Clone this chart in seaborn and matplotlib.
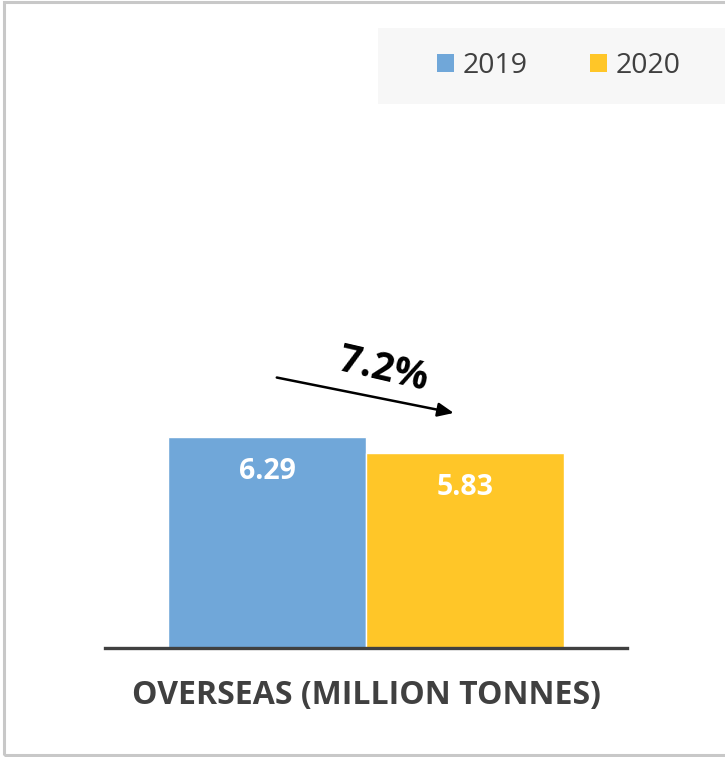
import matplotlib
matplotlib.use("Agg")
import matplotlib.pyplot as plt
import seaborn as sns
import pandas as pd
from matplotlib.patches import Rectangle, Patch

category = ["OVERSEAS (MILLION TONNES)"]
years = ["2019", "2020"]
values = [6.29, 5.83]
change_label = "7.2%"
colors = ["#70A7D9", "#FFC628"]

sns.set_theme(style="white")
plt.rcParams['font.family'] = ['Open Sans', 'DejaVu Sans']

W, H = 725, 757
fig = plt.figure(figsize=(W / 100, H / 100), dpi=100)
fig.patch.set_facecolor("white")

ax_left, ax_right = 105, 627
base_y = 648
ymax = 15
px_per_unit = 33.5
ax_h = ymax * px_per_unit
ax = fig.add_axes([ax_left / W, (H - base_y) / H, (ax_right - ax_left) / W, ax_h / H])

df = pd.DataFrame({"cat": category * len(years), "year": years, "value": values})
sns.barplot(data=df, x="cat", y="value", hue="year", palette=colors, ax=ax,
            width=0.8, saturation=1, edgecolor="white", linewidth=1, legend=False)
ax.set_xlim(-0.528, 0.528)
ax.set_ylim(0, ymax)
ax.set_yticks([])
ax.set_xticks([])
ax.set_xlabel("")
ax.set_ylabel("")
for s in ["top", "right", "left"]:
    ax.spines[s].set_visible(False)
ax.spines["bottom"].set_color("#404040")
ax.spines["bottom"].set_linewidth(2.4)
ax.patch.set_alpha(0)

for cont in ax.containers:
    for bar in cont:
        h = bar.get_height()
        ax.text(bar.get_x() + bar.get_width() / 2, h - 1.03, f"{h:.2f}",
                ha="center", va="center", color="white", fontsize=20.5, fontweight="bold")

ax.text(0, -1.42, category[0], ha="center", va="center", fontsize=23,
        fontweight="bold", color="#404040", clip_on=False)

ax.annotate("", xy=(0.183, 7.0), xytext=(-0.186, 8.09),
            arrowprops=dict(arrowstyle="-|>,head_length=0.8,head_width=0.35", color="black", lw=1.8),
            annotation_clip=False)
ax.text(0.036, 8.3, change_label, ha="center", va="center", rotation=-13,
        fontsize=28, fontweight="bold", color="black")

fig.patches.append(Rectangle((378 / W, (H - 104) / H), (W - 378 + 5) / W, 76 / H,
                             transform=fig.transFigure, facecolor="#f7f7f7",
                             edgecolor="none", zorder=0))
handles = [Patch(facecolor=c, edgecolor="none") for c in colors]
fig.legend(handles, years, loc="center", bbox_to_anchor=(559 / W, (H - 66) / H),
           ncol=2, frameon=False, fontsize=20.5, handlelength=0.6, handleheight=0.6,
           handletextpad=0.3, columnspacing=2.2, labelcolor="#404040")

fig.patches.append(Rectangle((4 / W, 2 / H), (W + 10) / W, (H - 4) / H,
                             transform=fig.transFigure, facecolor="none",
                             edgecolor="#c8c8c8", linewidth=2.2, zorder=5))

fig.savefig("out.png", dpi=100, facecolor="white")
